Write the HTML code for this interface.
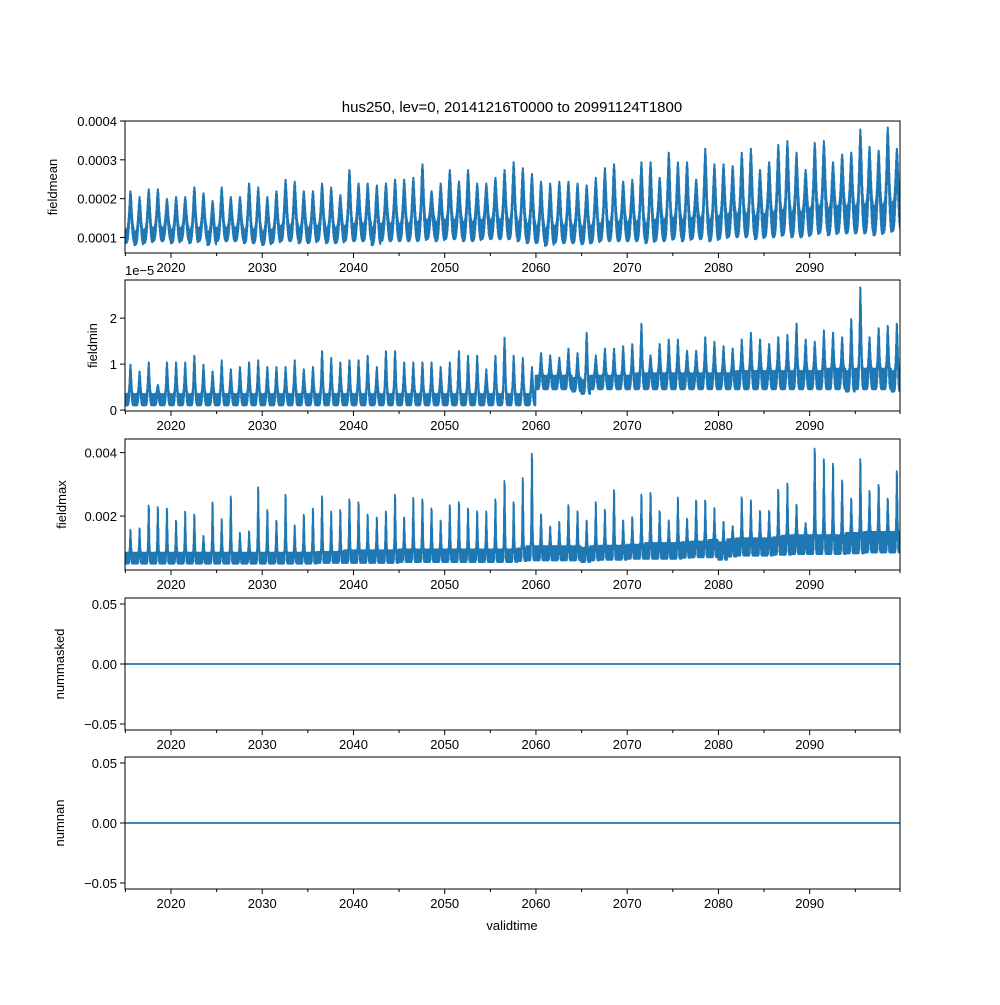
<!DOCTYPE html>
<html><head><meta charset="utf-8"><style>
body{margin:0;background:#fff}
svg text{font-family:"Liberation Sans","DejaVu Sans",sans-serif;fill:#000}
</style></head><body>
<svg id="fig" width="1000" height="1000" viewBox="0 0 1000 1000" xmlns="http://www.w3.org/2000/svg">
<rect width="1000" height="1000" fill="#fff"/>
<text x="512" y="112" font-size="15" text-anchor="middle">hus250, lev=0, 20141216T0000 to 20991124T1800</text>
<text x="512" y="930" font-size="13" text-anchor="middle">validtime</text>
<g id="panels"></g>
</svg>
<script>
const years = [];
for (let y = 2015; y <= 2099; y++) years.push(y);
const meanPeak = [2.2,2.05,2.25,2.25,2.0,2.05,2.05,2.3,2.15,1.95,2.3,2.05,2.05,2.4,2.3,2.05,2.2,2.5,2.45,2.2,2.2,2.4,2.3,2.1,2.75,2.4,2.4,2.35,2.4,2.5,2.5,2.55,2.9,2.2,2.4,2.75,2.45,2.75,2.4,2.4,2.55,2.75,2.95,2.8,2.65,2.45,2.4,2.45,2.45,2.4,2.35,2.55,2.8,2.9,2.45,2.5,2.95,2.95,2.55,3.2,2.95,2.95,2.5,3.3,2.9,2.9,2.85,3.2,3.3,2.75,2.95,3.4,3.5,3.2,2.75,3.45,3.5,2.95,3.15,3.2,3.8,3.35,3.25,3.85,3.3];
const meanTrough = [0.85,0.8,0.85,0.9,0.9,0.85,0.9,0.85,0.9,0.8,0.9,0.9,0.9,0.85,0.85,0.8,0.85,0.9,0.9,0.85,0.85,0.9,0.85,0.85,0.9,0.9,0.9,0.8,0.9,0.9,0.9,0.9,0.9,0.95,0.9,0.95,0.95,0.9,0.9,0.95,0.95,0.95,0.95,0.9,0.85,0.85,0.78,0.85,0.85,0.85,0.82,0.85,0.9,0.9,0.9,0.9,0.9,0.85,0.9,0.9,0.95,0.9,0.95,0.95,0.9,0.95,1.0,1.0,1.0,0.95,1.0,1.0,1.05,1.0,1.0,1.05,1.1,1.05,1.1,1.1,1.1,1.1,1.05,1.1,1.15];
const meanBand = [0.35,0.35,0.35,0.35,0.35,0.35,0.35,0.35,0.35,0.35,0.35,0.35,0.35,0.35,0.35,0.35,0.35,0.4,0.4,0.4,0.4,0.4,0.4,0.4,0.4,0.45,0.45,0.45,0.45,0.45,0.45,0.45,0.5,0.5,0.5,0.5,0.5,0.5,0.5,0.5,0.5,0.5,0.5,0.5,0.5,0.45,0.45,0.45,0.45,0.45,0.45,0.45,0.45,0.5,0.5,0.5,0.5,0.5,0.55,0.55,0.55,0.55,0.55,0.55,0.55,0.6,0.6,0.6,0.6,0.6,0.6,0.65,0.65,0.65,0.65,0.7,0.7,0.7,0.7,0.7,0.7,0.75,0.75,0.75,0.75];
const minPeak = [1.0,0.85,1.05,0.55,1.05,1.05,1.05,1.2,1.0,0.85,1.1,0.9,0.95,1.05,1.1,0.95,0.95,0.95,1.1,0.9,0.95,1.3,1.15,1.05,1.1,1.1,1.2,0.95,1.3,1.3,1.05,1.05,1.05,1.05,0.95,1.05,1.3,1.2,1.2,0.9,1.2,1.6,1.2,1.15,0.95,1.25,1.2,1.15,1.35,1.25,1.7,1.2,1.35,1.35,1.4,1.45,1.9,1.2,1.45,1.55,1.55,1.3,1.3,1.6,1.5,1.4,1.35,1.55,1.7,1.55,1.45,1.6,1.65,1.9,1.55,1.5,1.75,1.7,1.6,2.0,2.7,1.6,1.8,1.85,1.9];
const minTrough = [0.1,0.1,0.1,0.1,0.1,0.1,0.1,0.1,0.1,0.1,0.1,0.1,0.1,0.1,0.1,0.1,0.1,0.1,0.1,0.1,0.1,0.1,0.1,0.1,0.1,0.1,0.1,0.1,0.1,0.1,0.1,0.1,0.1,0.1,0.1,0.1,0.1,0.1,0.1,0.1,0.1,0.1,0.1,0.1,0.1,0.45,0.45,0.45,0.45,0.4,0.35,0.45,0.45,0.45,0.45,0.45,0.45,0.45,0.45,0.45,0.45,0.45,0.45,0.45,0.45,0.45,0.45,0.45,0.45,0.45,0.45,0.45,0.45,0.45,0.45,0.45,0.45,0.45,0.45,0.4,0.45,0.45,0.45,0.45,0.4];
const minBand = [0.25,0.25,0.25,0.25,0.25,0.25,0.25,0.25,0.25,0.25,0.25,0.25,0.25,0.25,0.25,0.25,0.25,0.25,0.25,0.25,0.25,0.25,0.25,0.25,0.25,0.25,0.25,0.25,0.25,0.25,0.25,0.25,0.25,0.25,0.25,0.25,0.25,0.25,0.25,0.25,0.25,0.25,0.25,0.25,0.25,0.3,0.3,0.3,0.3,0.3,0.3,0.3,0.3,0.3,0.3,0.3,0.35,0.35,0.35,0.35,0.35,0.35,0.35,0.35,0.35,0.35,0.35,0.4,0.4,0.4,0.4,0.4,0.4,0.4,0.4,0.4,0.4,0.45,0.45,0.45,0.45,0.45,0.45,0.45,0.45];
const maxPeak = [1.6,1.65,2.4,2.35,2.3,1.9,2.2,2.1,1.4,2.5,1.95,2.7,1.5,1.55,3.0,2.25,1.9,2.75,1.75,2.1,2.3,2.7,2.2,2.25,2.6,2.5,2.1,2.0,2.2,2.75,2.0,2.65,2.6,2.3,1.9,2.4,2.5,2.3,2.2,2.2,2.6,3.2,2.5,3.3,4.1,2.1,1.7,1.85,2.4,2.2,1.9,2.5,2.25,2.9,1.9,2.0,2.75,2.8,2.2,1.9,2.65,1.95,2.55,2.55,2.3,1.85,1.7,2.65,2.55,2.2,2.2,2.9,3.1,2.4,1.8,4.25,3.9,3.75,3.2,2.6,3.9,2.85,3.05,2.6,3.5];
const maxTrough = [0.5,0.5,0.5,0.5,0.5,0.5,0.5,0.5,0.5,0.5,0.5,0.5,0.5,0.5,0.5,0.5,0.5,0.5,0.5,0.5,0.5,0.52,0.52,0.52,0.52,0.52,0.52,0.52,0.52,0.52,0.55,0.55,0.55,0.55,0.55,0.55,0.55,0.55,0.55,0.55,0.55,0.55,0.55,0.58,0.6,0.6,0.6,0.6,0.6,0.6,0.55,0.6,0.62,0.62,0.62,0.65,0.65,0.65,0.65,0.65,0.65,0.68,0.7,0.7,0.7,0.62,0.72,0.75,0.75,0.75,0.75,0.78,0.78,0.8,0.8,0.8,0.8,0.8,0.8,0.82,0.82,0.85,0.85,0.85,0.85];
const maxBand = [0.35,0.35,0.35,0.35,0.35,0.35,0.35,0.35,0.35,0.35,0.35,0.35,0.35,0.35,0.35,0.35,0.35,0.35,0.35,0.35,0.35,0.35,0.35,0.35,0.4,0.4,0.4,0.4,0.4,0.4,0.4,0.4,0.4,0.4,0.4,0.4,0.4,0.4,0.4,0.4,0.4,0.4,0.4,0.4,0.45,0.45,0.45,0.45,0.45,0.45,0.45,0.45,0.45,0.45,0.45,0.45,0.45,0.5,0.5,0.5,0.5,0.5,0.5,0.5,0.55,0.55,0.55,0.55,0.55,0.55,0.55,0.55,0.6,0.6,0.6,0.6,0.6,0.6,0.6,0.65,0.65,0.65,0.65,0.65,0.65];
const xTicksMajor = [2020,2030,2040,2050,2060,2070,2080,2090];
const xTicksMinor = [2015,2025,2035,2045,2055,2065,2075,2085,2095,2099.9];
const meanTicks = [1,2,3,4]; const meanTickLabels = ["0.0001","0.0002","0.0003","0.0004"];
const minTicks = [0,1,2]; const minTickLabels = ["0","1","2"];
const maxTicks = [2,4]; const maxTickLabels = ["0.002","0.004"];
const zeroTicks = [-0.05,0,0.05]; const zeroTickLabels = ["\u22120.05","0.00","0.05"];
const zeroSeries = [0,0];

const NS = "http://www.w3.org/2000/svg";
const X0 = 125, X1 = 900, T0 = 2014.96, T1 = 2099.9;
const xs = t => X0 + (t - T0) / (T1 - T0) * (X1 - X0);
const root = document.getElementById('panels');
function mk(tag, attrs, parent) { const e = document.createElementNS(NS, tag); for (const k in attrs) e.setAttribute(k, attrs[k]); (parent || root).appendChild(e); return e; }

function panel(idx, name, top, bot, ymin, ymax, ticks, labels, ylabel, ylabelX, series) {
  const g = mk('g', {});
  
  
  const ys = v => bot - (v - ymin) / (ymax - ymin) * (bot - top);
  const cp = mk('clipPath', { id: 'cp' + idx }, g);
  mk('rect', { x: X0, y: top, width: X1 - X0, height: bot - top }, cp);
  const line = mk('path', { d: series(ys), fill: 'none', stroke: '#1f77b4', 'stroke-width': 1.8, 'stroke-linejoin': 'round', 'clip-path': 'url(#cp' + idx + ')' }, g);
  
  
  const fr = mk('rect', { x: X0, y: top, width: X1 - X0, height: bot - top, fill: 'none', stroke: '#000', 'stroke-width': 1 }, g);
  
  
  xTicksMajor.forEach(t => {
    mk('line', { x1: xs(t), x2: xs(t), y1: bot, y2: bot + 5, stroke: '#000' }, g);
    const tx = mk('text', { x: xs(t), y: bot + 19, 'font-size': 13, 'text-anchor': 'middle' }, g);
    tx.textContent = t;
    
    
  });
  xTicksMinor.forEach(t => mk('line', { x1: xs(t), x2: xs(t), y1: bot, y2: bot + 3, stroke: '#000' }, g));
  ticks.forEach((v, i) => {
    const y = ys(v);
    mk('line', { x1: X0 - 5, x2: X0, y1: y, y2: y, stroke: '#000' }, g);
    const tx = mk('text', { x: X0 - 8, y: y + 5, 'font-size': 13, 'text-anchor': 'end' }, g);
    tx.textContent = labels[i];
    
    
  });
  const yl = mk('text', { x: ylabelX, y: (top + bot) / 2, 'font-size': 13, 'text-anchor': 'middle', transform: 'rotate(-90 ' + ylabelX + ' ' + (top + bot) / 2 + ')' }, g);
  yl.textContent = ylabel;
  
  
  return g;
}

function seasonal(peak, trough, band, width, ctr, loFrac) {
  return ys => {
    let d = '';
    const N = 48;
    for (let i = 0; i < years.length; i++) {
      for (let k = 0; k < N; k++) {
        const p = k / N;
        const s = Math.exp(-Math.pow((p - ctr) / width, 2));
        const amp = peak[i] - trough[i];
        const v = (k % 2 === 0) ? trough[i] + band[i] + (amp - band[i]) * s : trough[i] + loFrac * amp * s;
        const t = years[i] - 0.04 + p;
        d += (d ? 'L' : 'M') + xs(t).toFixed(1) + ',' + ys(v).toFixed(1);
      }
    }
    return d;
  };
}
function flat(ys) { return 'M' + xs(T0) + ',' + ys(zeroSeries[0]) + 'L' + xs(T1) + ',' + ys(zeroSeries[1]); }

panel(1, 'fieldmean', 121, 253, 0.6, 4.0, meanTicks, meanTickLabels, 'fieldmean', 57, seasonal(meanPeak, meanTrough, meanBand, 0.2, 0.6, 0.55));
panel(2, 'fieldmin', 280, 411, -0.02, 2.83, minTicks, minTickLabels, 'fieldmin', 97, seasonal(minPeak, minTrough, minBand, 0.13, 0.6, 0.5));
panel(3, 'fieldmax', 439, 570, 0.3, 4.43, maxTicks, maxTickLabels, 'fieldmax', 66, seasonal(maxPeak, maxTrough, maxBand, 0.08, 0.6, 0.45));
panel(4, 'nummasked', 598, 730, -0.055, 0.055, zeroTicks, zeroTickLabels, 'nummasked', 64, flat);
panel(5, 'numnan', 757, 889, -0.055, 0.055, zeroTicks, zeroTickLabels, 'numnan', 64, flat);
const off = mk('text', { x: 125, y: 275, 'font-size': 13 });
off.textContent = '1e\u22125';


</script>
</body></html>
